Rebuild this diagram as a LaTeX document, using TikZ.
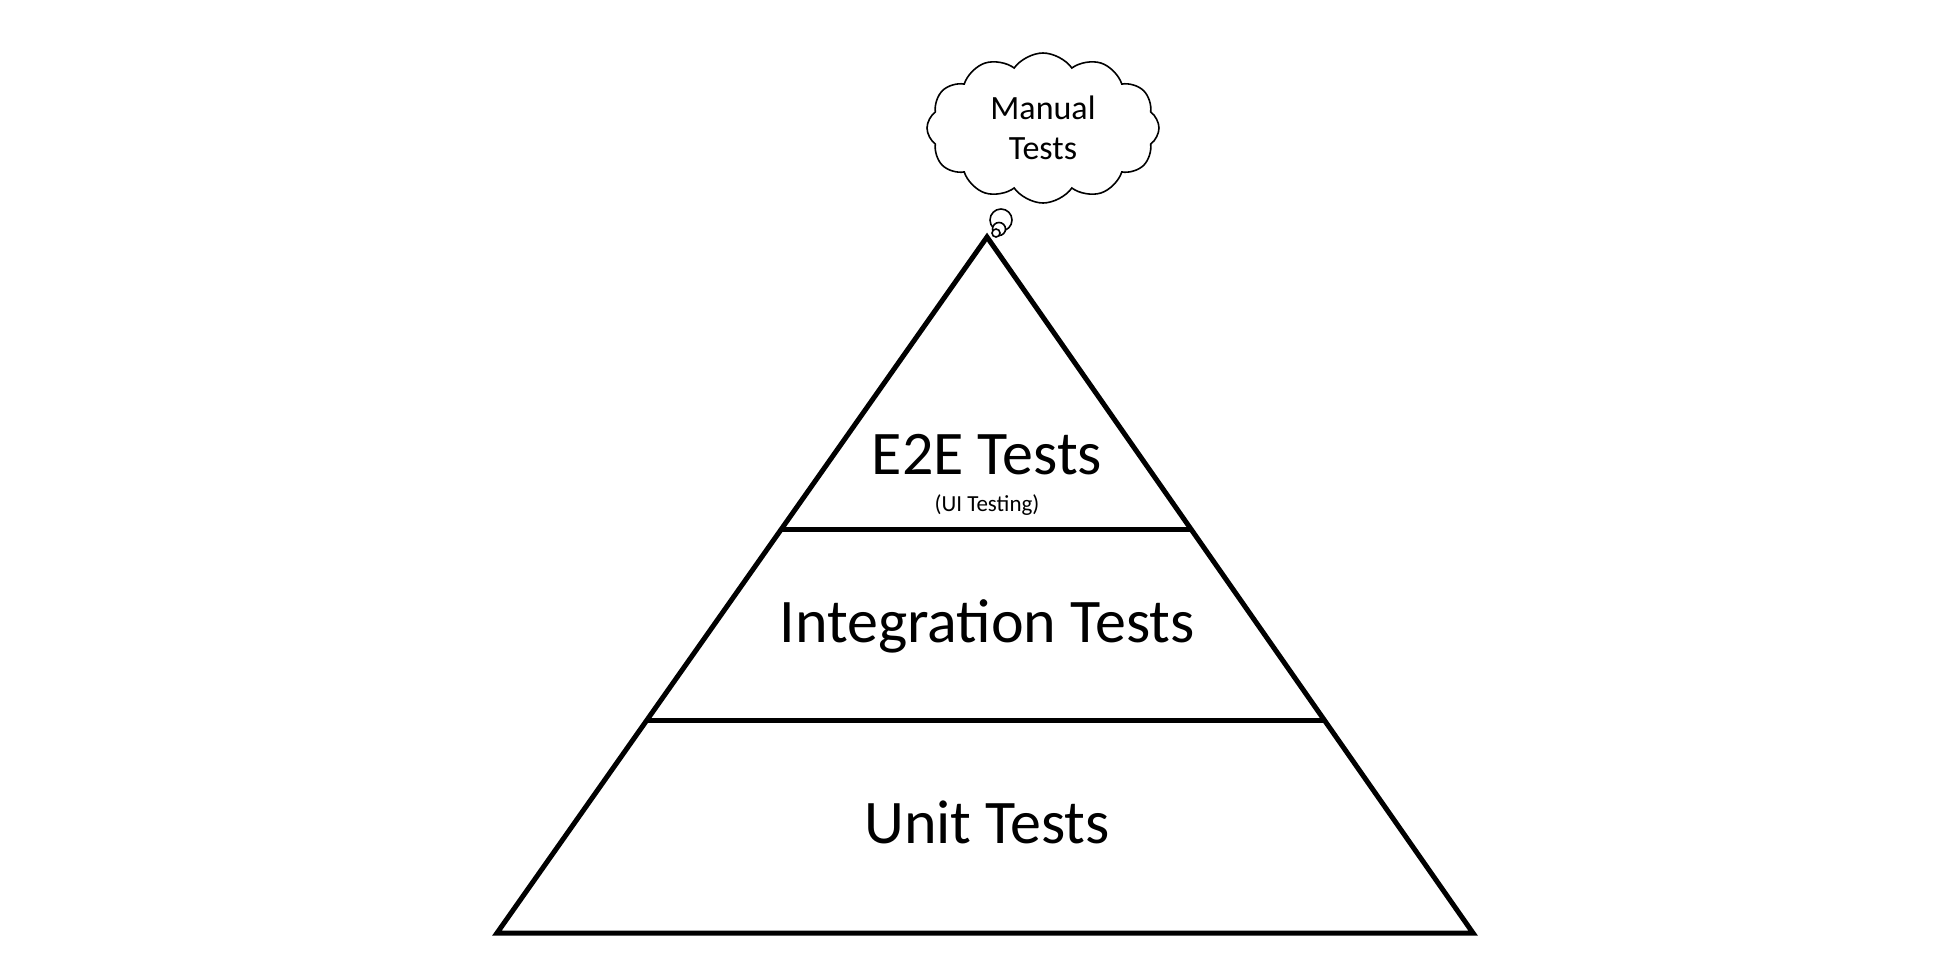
\documentclass[tikz,border=0pt]{standalone}
\usepackage{fontspec}
\setmainfont{Carlito}
\usetikzlibrary{shapes.symbols,calc}
\begin{document}
\begin{tikzpicture}[x=1pt,y=-1pt,
  lvl/.style={font=\fontsize{62}{64}\selectfont},
  bub/.style={draw,line width=1.6pt,fill=white}]
\useasboundingbox (0,0) rectangle (1934,978);
\coordinate (apex) at (987,237);
\coordinate (bl) at (497,933);
\coordinate (br) at (1473,933);
\draw[line width=5pt,line join=miter] (apex) -- (br) -- (bl) -- cycle;
\draw[line width=5pt] ($(apex)!0.42!(bl)$) coordinate (l1) -- ($(apex)!0.42!(br)$) coordinate (r1);
\draw[line width=5pt] ($(apex)!0.695!(bl)$) coordinate (l2) -- ($(apex)!0.695!(br)$) coordinate (r2);
\node[lvl] (e2e) at (987,455) {E2E Tests};
\node[font=\fontsize{23}{25}\selectfont] (ui) at (987,505) {(UI Testing)};
\node[lvl] (integ) at (987,626) {Integration Tests};
\node[lvl] (unit) at (987,822) {Unit Tests};
\node[cloud,draw,line width=1.6pt,cloud puffs=12,cloud puff arc=110,aspect=1.5,
  minimum width=232,minimum height=150,inner sep=0,
  align=center,font=\fontsize{34}{40}\selectfont] (cl) at (1043,128) {Manual\\Tests};
\node[bub,circle,minimum size=22,inner sep=0] (b1) at (1001,220) {};
\node[bub,circle,minimum size=13,inner sep=0] (b2) at (999,229) {};
\node[bub,circle,minimum size=8,inner sep=0] (b3) at (996,233) {};
\end{tikzpicture}
\end{document}
